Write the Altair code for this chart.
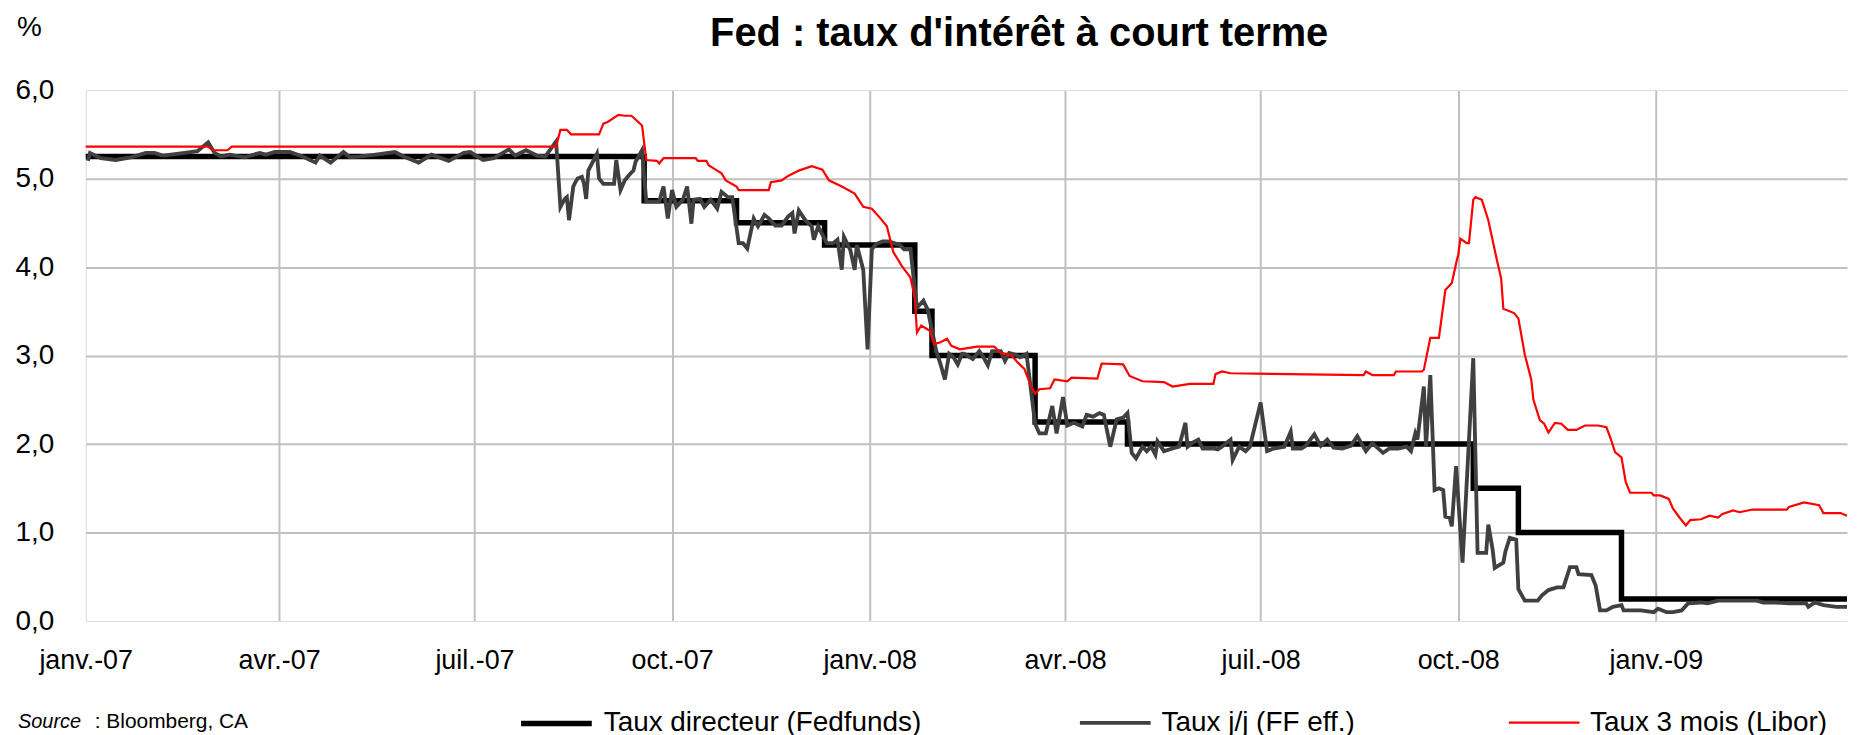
import altair as alt
import pandas as pd

FONT = "Liberation Sans, Arial, Helvetica, sans-serif"

SERIES = ["Taux directeur (Fedfunds)", "Taux j/j (FF eff.)", "Taux 3 mois (Libor)"]
COLORS = ["#000000", "#404040", "#ff0000"]
WIDTHS = [5.5, 2.2, 2.5]

TITLE = "Fed : taux d'intérêt à court terme"
UNIT = "%"
SOURCE_LABEL = "Source"
SOURCE_TEXT = ": Bloomberg, CA"

tick_dates = ["2007-01-01", "2007-04-01", "2007-07-01", "2007-10-01", "2008-01-01",
              "2008-04-01", "2008-07-01", "2008-10-01", "2009-01-01"]
tick_labels = ["janv.-07", "avr.-07", "juil.-07", "oct.-07", "janv.-08",
               "avr.-08", "juil.-08", "oct.-08", "janv.-09"]
y_ticks = [0, 1, 2, 3, 4, 5, 6]

# Fed funds target (step series)
fed = [("2007-01-01", 5.25), ("2007-09-18", 4.75), ("2007-10-31", 4.50), ("2007-12-11", 4.25),
       ("2008-01-22", 3.50), ("2008-01-30", 3.00), ("2008-03-18", 2.25), ("2008-04-30", 2.00),
       ("2008-10-08", 1.50), ("2008-10-29", 1.00), ("2008-12-16", 0.25), ("2009-03-31", 0.25)]

# Effective fed funds rate
ff = [("2007-01-02", 5.20), ("2007-01-03", 5.29), ("2007-01-08", 5.23), ("2007-01-15", 5.21),
      ("2007-01-22", 5.24), ("2007-01-29", 5.29), ("2007-02-02", 5.29), ("2007-02-06", 5.26),
      ("2007-02-16", 5.29), ("2007-02-22", 5.31), ("2007-02-27", 5.41), ("2007-03-02", 5.29),
      ("2007-03-05", 5.25), ("2007-03-09", 5.27), ("2007-03-16", 5.24), ("2007-03-23", 5.29),
      ("2007-03-26", 5.27), ("2007-03-30", 5.30), ("2007-04-06", 5.30), ("2007-04-12", 5.25),
      ("2007-04-18", 5.18), ("2007-04-20", 5.26), ("2007-04-25", 5.18), ("2007-05-01", 5.30),
      ("2007-05-04", 5.24), ("2007-05-09", 5.25), ("2007-05-16", 5.27), ("2007-05-25", 5.30),
      ("2007-05-29", 5.25), ("2007-06-05", 5.18), ("2007-06-11", 5.27), ("2007-06-19", 5.20),
      ("2007-06-26", 5.29), ("2007-06-29", 5.30), ("2007-07-05", 5.21), ("2007-07-10", 5.23),
      ("2007-07-17", 5.33), ("2007-07-20", 5.26), ("2007-07-25", 5.32), ("2007-07-30", 5.26),
      ("2007-08-03", 5.25), ("2007-08-08", 5.42), ("2007-08-10", 4.68), ("2007-08-12", 4.77),
      ("2007-08-13", 4.79), ("2007-08-14", 4.53), ("2007-08-16", 4.91), ("2007-08-17", 4.96),
      ("2007-08-18", 5.00), ("2007-08-20", 5.02), ("2007-08-21", 4.94), ("2007-08-22", 4.77),
      ("2007-08-23", 5.09), ("2007-08-27", 5.28), ("2007-08-28", 5.00), ("2007-08-30", 4.94),
      ("2007-09-04", 4.94), ("2007-09-05", 5.21), ("2007-09-07", 4.87), ("2007-09-09", 4.98),
      ("2007-09-11", 5.04), ("2007-09-13", 5.09), ("2007-09-14", 5.19), ("2007-09-17", 5.32),
      ("2007-09-19", 4.74), ("2007-09-25", 4.74), ("2007-09-27", 4.91), ("2007-09-29", 4.55),
      ("2007-10-01", 4.87), ("2007-10-03", 4.68), ("2007-10-06", 4.76), ("2007-10-08", 4.91),
      ("2007-10-10", 4.49), ("2007-10-11", 4.76), ("2007-10-14", 4.77), ("2007-10-16", 4.68),
      ("2007-10-19", 4.76), ("2007-10-22", 4.66), ("2007-10-24", 4.85), ("2007-10-27", 4.79),
      ("2007-10-29", 4.79), ("2007-11-01", 4.27), ("2007-11-03", 4.27), ("2007-11-05", 4.21),
      ("2007-11-08", 4.55), ("2007-11-10", 4.46), ("2007-11-13", 4.59), ("2007-11-15", 4.55),
      ("2007-11-18", 4.47), ("2007-11-21", 4.47), ("2007-11-24", 4.57), ("2007-11-26", 4.61),
      ("2007-11-27", 4.38), ("2007-11-29", 4.64), ("2007-12-02", 4.53), ("2007-12-05", 4.46),
      ("2007-12-06", 4.31), ("2007-12-08", 4.46), ("2007-12-12", 4.27), ("2007-12-15", 4.27),
      ("2007-12-17", 4.31), ("2007-12-19", 3.97), ("2007-12-20", 4.34), ("2007-12-23", 4.19),
      ("2007-12-25", 3.97), ("2007-12-26", 4.25), ("2007-12-29", 3.97), ("2007-12-31", 3.07),
      ("2008-01-02", 4.20), ("2008-01-04", 4.26), ("2008-01-07", 4.29), ("2008-01-10", 4.29),
      ("2008-01-15", 4.25), ("2008-01-17", 4.20), ("2008-01-20", 4.20), ("2008-01-23", 3.54),
      ("2008-01-26", 3.62), ("2008-01-28", 3.52), ("2008-02-01", 3.05), ("2008-02-03", 2.90),
      ("2008-02-05", 2.73), ("2008-02-07", 3.02), ("2008-02-09", 2.98), ("2008-02-11", 2.90),
      ("2008-02-13", 3.02), ("2008-02-14", 3.02), ("2008-02-18", 2.96), ("2008-02-21", 3.05),
      ("2008-02-23", 2.98), ("2008-02-25", 2.89), ("2008-02-27", 3.05), ("2008-03-02", 3.05),
      ("2008-03-04", 2.94), ("2008-03-06", 3.03), ("2008-03-09", 3.01), ("2008-03-11", 2.98),
      ("2008-03-14", 3.02), ("2008-03-18", 2.23), ("2008-03-20", 2.12), ("2008-03-23", 2.12),
      ("2008-03-26", 2.43), ("2008-03-28", 2.12), ("2008-03-31", 2.53), ("2008-04-02", 2.21),
      ("2008-04-05", 2.24), ("2008-04-09", 2.20), ("2008-04-11", 2.33), ("2008-04-14", 2.31),
      ("2008-04-17", 2.35), ("2008-04-19", 2.33), ("2008-04-22", 1.97), ("2008-04-25", 2.28),
      ("2008-04-28", 2.30), ("2008-04-30", 2.35), ("2008-05-02", 1.90), ("2008-05-04", 1.84),
      ("2008-05-07", 1.97), ("2008-05-09", 1.92), ("2008-05-11", 1.97), ("2008-05-13", 1.88),
      ("2008-05-14", 2.03), ("2008-05-17", 1.92), ("2008-05-21", 1.95), ("2008-05-24", 1.97),
      ("2008-05-27", 2.24), ("2008-05-28", 1.97), ("2008-05-30", 2.01), ("2008-06-02", 2.05),
      ("2008-06-04", 1.95), ("2008-06-09", 1.95), ("2008-06-11", 1.94), ("2008-06-13", 1.97),
      ("2008-06-17", 2.05), ("2008-06-18", 1.82), ("2008-06-21", 1.97), ("2008-06-24", 1.92),
      ("2008-06-26", 1.97), ("2008-07-01", 2.47), ("2008-07-04", 1.92), ("2008-07-07", 1.95),
      ("2008-07-12", 1.97), ("2008-07-15", 2.14), ("2008-07-16", 1.95), ("2008-07-20", 1.95),
      ("2008-07-22", 1.98), ("2008-07-26", 2.11), ("2008-07-29", 1.98), ("2008-08-01", 2.05),
      ("2008-08-04", 1.96), ("2008-08-08", 1.95), ("2008-08-12", 1.98), ("2008-08-15", 2.09),
      ("2008-08-19", 1.92), ("2008-08-22", 2.01), ("2008-08-27", 1.90), ("2008-08-30", 1.95),
      ("2008-09-03", 1.95), ("2008-09-07", 1.97), ("2008-09-09", 1.92), ("2008-09-11", 2.12),
      ("2008-09-12", 2.05), ("2008-09-15", 2.65), ("2008-09-16", 1.97), ("2008-09-18", 2.78),
      ("2008-09-20", 1.48), ("2008-09-22", 1.50), ("2008-09-24", 1.48), ("2008-09-25", 1.18),
      ("2008-09-27", 1.17), ("2008-09-28", 1.07), ("2008-09-30", 1.75), ("2008-10-03", 0.66),
      ("2008-10-08", 2.97), ("2008-10-10", 0.77), ("2008-10-14", 0.77), ("2008-10-15", 1.09),
      ("2008-10-17", 0.81), ("2008-10-18", 0.60), ("2008-10-22", 0.66), ("2008-10-23", 0.79),
      ("2008-10-25", 0.94), ("2008-10-28", 0.92), ("2008-10-29", 0.36), ("2008-11-01", 0.23),
      ("2008-11-07", 0.23), ("2008-11-09", 0.29), ("2008-11-12", 0.35), ("2008-11-16", 0.38),
      ("2008-11-19", 0.38), ("2008-11-22", 0.61), ("2008-11-25", 0.61), ("2008-11-26", 0.53),
      ("2008-12-02", 0.52), ("2008-12-04", 0.40), ("2008-12-06", 0.12), ("2008-12-09", 0.12),
      ("2008-12-12", 0.16), ("2008-12-16", 0.18), ("2008-12-17", 0.12), ("2008-12-25", 0.12),
      ("2008-12-31", 0.10), ("2009-01-02", 0.14), ("2009-01-06", 0.10), ("2009-01-09", 0.10),
      ("2009-01-13", 0.12), ("2009-01-16", 0.20), ("2009-01-22", 0.21), ("2009-01-25", 0.20),
      ("2009-01-30", 0.23), ("2009-02-17", 0.23), ("2009-02-20", 0.21), ("2009-02-26", 0.21),
      ("2009-03-04", 0.20), ("2009-03-12", 0.20), ("2009-03-13", 0.16), ("2009-03-16", 0.21),
      ("2009-03-20", 0.18), ("2009-03-26", 0.16), ("2009-03-31", 0.16)]

# 3-month Libor
libor = [("2007-01-01", 5.36), ("2007-02-27", 5.36), ("2007-03-01", 5.32), ("2007-03-08", 5.32),
         ("2007-03-10", 5.36), ("2007-08-08", 5.36), ("2007-08-10", 5.55), ("2007-08-13", 5.55),
         ("2007-08-15", 5.50), ("2007-08-28", 5.50), ("2007-08-30", 5.62), ("2007-09-01", 5.64),
         ("2007-09-06", 5.72), ("2007-09-09", 5.71), ("2007-09-12", 5.71), ("2007-09-13", 5.69),
         ("2007-09-17", 5.60), ("2007-09-19", 5.21), ("2007-09-24", 5.20), ("2007-09-25", 5.17),
         ("2007-09-27", 5.23), ("2007-10-12", 5.23), ("2007-10-13", 5.20), ("2007-10-17", 5.20),
         ("2007-10-18", 5.15), ("2007-10-22", 5.09), ("2007-10-24", 5.06), ("2007-10-26", 4.98),
         ("2007-10-31", 4.91), ("2007-11-01", 4.87), ("2007-11-15", 4.87), ("2007-11-16", 4.96),
         ("2007-11-21", 4.98), ("2007-11-24", 5.03), ("2007-11-29", 5.09), ("2007-12-05", 5.14),
         ("2007-12-10", 5.10), ("2007-12-13", 4.98), ("2007-12-19", 4.91), ("2007-12-25", 4.83),
         ("2007-12-29", 4.68), ("2008-01-02", 4.66), ("2008-01-06", 4.55), ("2008-01-09", 4.46),
         ("2008-01-12", 4.17), ("2008-01-16", 4.01), ("2008-01-20", 3.88), ("2008-01-22", 3.65),
         ("2008-01-23", 3.26), ("2008-01-25", 3.34), ("2008-01-29", 3.28), ("2008-01-31", 3.13),
         ("2008-02-03", 3.15), ("2008-02-06", 3.19), ("2008-02-08", 3.11), ("2008-02-12", 3.07),
         ("2008-02-20", 3.10), ("2008-02-28", 3.10), ("2008-03-02", 3.03), ("2008-03-07", 3.00),
         ("2008-03-10", 2.92), ("2008-03-13", 2.85), ("2008-03-16", 2.66), ("2008-03-18", 2.57),
         ("2008-03-20", 2.62), ("2008-03-25", 2.63), ("2008-03-27", 2.73), ("2008-04-02", 2.71),
         ("2008-04-04", 2.75), ("2008-04-16", 2.74), ("2008-04-18", 2.91), ("2008-04-28", 2.90),
         ("2008-05-01", 2.77), ("2008-05-07", 2.71), ("2008-05-17", 2.70), ("2008-05-21", 2.65),
         ("2008-05-29", 2.68), ("2008-06-09", 2.68), ("2008-06-10", 2.79), ("2008-06-13", 2.82),
         ("2008-06-17", 2.80), ("2008-08-18", 2.78), ("2008-08-19", 2.82), ("2008-08-22", 2.78),
         ("2008-09-01", 2.78), ("2008-09-02", 2.82), ("2008-09-14", 2.82), ("2008-09-15", 2.84),
         ("2008-09-18", 3.20), ("2008-09-22", 3.20), ("2008-09-25", 3.74), ("2008-09-28", 3.82),
         ("2008-09-30", 4.04), ("2008-10-01", 4.14), ("2008-10-02", 4.32), ("2008-10-05", 4.27),
         ("2008-10-06", 4.27), ("2008-10-08", 4.76), ("2008-10-09", 4.79), ("2008-10-12", 4.76),
         ("2008-10-15", 4.53), ("2008-10-19", 4.08), ("2008-10-21", 3.87), ("2008-10-22", 3.53),
         ("2008-10-27", 3.48), ("2008-10-29", 3.42), ("2008-11-01", 3.01), ("2008-11-04", 2.73),
         ("2008-11-05", 2.50), ("2008-11-08", 2.27), ("2008-11-10", 2.23), ("2008-11-12", 2.13),
         ("2008-11-15", 2.24), ("2008-11-18", 2.23), ("2008-11-21", 2.16), ("2008-11-25", 2.16),
         ("2008-11-29", 2.21), ("2008-12-05", 2.21), ("2008-12-09", 2.19), ("2008-12-11", 2.06),
         ("2008-12-13", 1.91), ("2008-12-16", 1.85), ("2008-12-18", 1.57), ("2008-12-20", 1.45),
         ("2008-12-30", 1.45), ("2008-12-31", 1.42), ("2009-01-03", 1.42), ("2009-01-07", 1.38),
         ("2009-01-09", 1.27), ("2009-01-12", 1.17), ("2009-01-15", 1.08), ("2009-01-17", 1.14),
         ("2009-01-22", 1.15), ("2009-01-26", 1.19), ("2009-01-30", 1.17), ("2009-02-01", 1.21),
         ("2009-02-06", 1.25), ("2009-02-09", 1.23), ("2009-02-15", 1.26), ("2009-03-03", 1.26),
         ("2009-03-04", 1.29), ("2009-03-11", 1.34), ("2009-03-18", 1.31), ("2009-03-20", 1.22),
         ("2009-03-28", 1.22), ("2009-03-31", 1.19)]

rows = []
for name, series in zip(SERIES, [fed, ff, libor]):
    for d, v in series:
        rows.append({"date": d, "value": v, "series": name})
df = pd.DataFrame(rows)


def dt(s):
    y, m, d = map(int, s.split("-"))
    return alt.DateTime(year=y, month=m, date=d, utc=True)


label_map = ", ".join(f"'{d[:7]}': '{l}'" for d, l in zip(tick_dates, tick_labels))
x_label_expr = "{" + label_map + "}[utcFormat(datum.value, '%Y-%m')]"

first_tick_test = "utcyear(datum.value) === 2007 && utcmonth(datum.value) === 0"
edge_y_test = "datum.value === 0 || datum.value === 6"

x_enc = alt.X(
    "date:T",
    title=None,
    scale=alt.Scale(type="utc", domain=[dt("2007-01-01"), dt("2009-03-31")]),
    axis=alt.Axis(
        values=[dt(d) for d in tick_dates],
        labelExpr=x_label_expr,
        labelFont=FONT, labelFontSize=27, labelColor="#000000",
        labelPadding=27, labelFlush=False, labelOverlap=False, labelAngle=0,
        ticks=False, domain=False, tickSize=0,
        gridColor={"condition": {"test": first_tick_test, "value": "#d9d9d9"}, "value": "#c0c0c0"},
        gridWidth={"condition": {"test": first_tick_test, "value": 1}, "value": 2},
        gridOpacity=1,
    ),
)
y_enc = alt.Y(
    "value:Q",
    title=None,
    scale=alt.Scale(domain=[0, 6], nice=False, zero=True),
    axis=alt.Axis(
        values=y_ticks,
        labelExpr="replace(format(datum.value, '.1f'), '.', ',')",
        labelFont=FONT, labelFontSize=28, labelColor="#000000",
        labelPadding=32, ticks=False, domain=False, tickSize=0,
        gridColor={"condition": {"test": edge_y_test, "value": "#dcdcdc"}, "value": "#c0c0c0"},
        gridWidth={"condition": {"test": edge_y_test, "value": 1}, "value": 2},
        gridOpacity=1,
    ),
)

legend = alt.Legend(
    orient="none", legendX=434, legendY=597, direction="horizontal",
    labelFont=FONT, labelFontSize=28, labelColor="#000000", labelLimit=0,
    symbolType="stroke", symbolSize=5041, labelOffset=9,
    columnPadding=150, padding=0, symbolOpacity=1,
)
color_enc = alt.Color("series:N", title=None,
                      scale=alt.Scale(domain=SERIES, range=COLORS), legend=legend)
width_enc = alt.StrokeWidth("series:N", title=None,
                            scale=alt.Scale(domain=SERIES, range=WIDTHS), legend=legend)

base = alt.Chart(df).encode(x=x_enc, y=y_enc, color=color_enc, strokeWidth=width_enc)

fed_line = base.transform_filter(alt.datum.series == SERIES[0]).mark_line(interpolate="step-after")
ff_line = base.transform_filter(alt.datum.series == SERIES[1]).mark_line()
libor_line = base.transform_filter(alt.datum.series == SERIES[2]).mark_line()

title_txt = alt.Chart(pd.DataFrame({"t": [TITLE]})).mark_text(
    font=FONT, fontSize=40, fontWeight="bold", align="center", baseline="alphabetic", color="#000000"
).encode(x=alt.value(937), y=alt.value(-44), text="t:N")

unit_txt = alt.Chart(pd.DataFrame({"t": [UNIT]})).mark_text(
    font=FONT, fontSize=28, align="left", baseline="alphabetic", color="#000000"
).encode(x=alt.value(-69), y=alt.value(-54), text="t:N")

src_label = alt.Chart(pd.DataFrame({"t": [SOURCE_LABEL]})).mark_text(
    font=FONT, fontSize=20, fontStyle="italic", align="left", baseline="alphabetic", color="#000000"
).encode(x=alt.value(-68), y=alt.value(640), text="t:N")

src_text = alt.Chart(pd.DataFrame({"t": [SOURCE_TEXT]})).mark_text(
    font=FONT, fontSize=21, align="left", baseline="alphabetic", color="#000000"
).encode(x=alt.value(9), y=alt.value(640), text="t:N")

chart = alt.layer(
    fed_line, ff_line, libor_line, title_txt, unit_txt, src_label, src_text
).properties(
    width=1768, height=533, autosize="none",
    padding={"left": 78, "top": 81, "right": 2, "bottom": 114},
    background="#ffffff",
).configure_view(stroke=None)

chart.save("out.html", embed_options={"renderer": "svg", "actions": False})
